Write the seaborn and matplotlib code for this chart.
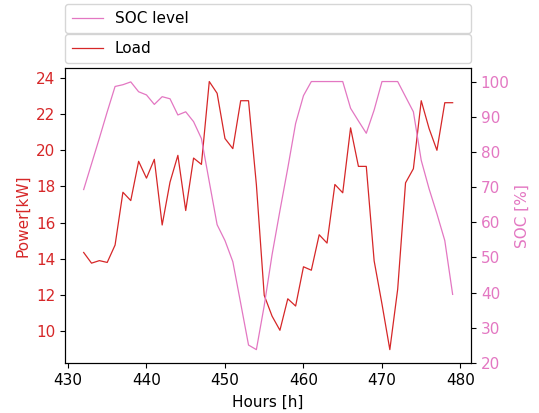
import seaborn as sns
import matplotlib.pyplot as plt
import pandas as pd

hours = list(range(432, 480))
load = [14.35, 13.76, 13.9, 13.8, 14.76, 17.68, 17.22, 19.39, 18.46, 19.5,
        15.87, 18.24, 19.72, 16.67, 19.57, 19.22, 23.8, 23.15, 20.65, 20.09,
        22.74, 22.74, 18.1, 11.98, 10.83, 10.05, 11.79, 11.39, 13.56, 13.37,
        15.33, 14.87, 18.11, 17.65, 21.24, 19.11, 19.11, 13.89, 11.5, 8.98,
        12.32, 18.2, 18.98, 22.74, 21.2, 20.0, 22.63, 22.63]
soc = [69.3, 76.6, 83.9, 91.4, 98.6, 99.1, 99.9, 97.1, 96.2, 93.5,
       95.7, 95.1, 90.5, 91.4, 88.6, 83.8, 71.5, 59.3, 54.8, 48.8,
       37.0, 25.1, 23.8, 36.3, 50.8, 63.3, 75.4, 88.1, 96.0, 100.0,
       100.0, 100.0, 100.0, 100.0, 92.4, 88.8, 85.3, 91.9, 100.0, 100.0,
       100.0, 95.7, 91.4, 77.6, 69.5, 62.4, 54.8, 39.5]

df = pd.DataFrame({'hour': hours, 'load': load, 'soc': soc})

red = '#d62728'
pink = '#e377c2'

plt.rcParams['font.size'] = 11
fig, ax = plt.subplots(figsize=(5.39, 4.13), dpi=100)
fig.subplots_adjust(left=0.121, right=0.874, bottom=0.121, top=0.835)

sns.lineplot(data=df, x='hour', y='load', ax=ax, color=red, linewidth=0.9, label='Load')
ax2 = ax.twinx()
sns.lineplot(data=df, x='hour', y='soc', ax=ax2, color=pink, linewidth=0.9, label='SOC level')

ax.set_xlabel('Hours [h]', labelpad=5)
ax.set_ylabel('Power[kW]', color=red)
ax2.set_ylabel('SOC [%]', color=pink)
ax.tick_params(axis='y', labelcolor=red)
ax2.tick_params(axis='y', labelcolor=pink)

# two stacked legend boxes above the axes
ax.legend(loc='lower left', bbox_to_anchor=(0, 1.017, 1, 0.1), mode='expand',
          borderaxespad=0, borderpad=0.45)
ax2.legend(loc='lower left', bbox_to_anchor=(0, 1.12, 1, 0.1), mode='expand',
           borderaxespad=0, borderpad=0.45)

plt.savefig('out.png')
